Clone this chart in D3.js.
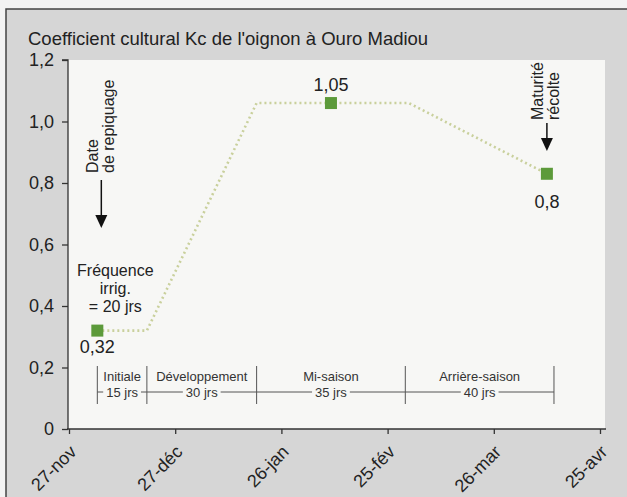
<!DOCTYPE html>
<html lang="fr">
<head>
<meta charset="UTF-8">
<title>Coefficient cultural Kc</title>
<style>
  body { margin: 0; background: #f3f3f3; }
  svg { display: block; font-family: "Liberation Sans", Arial, sans-serif; }
  .axis path, .axis line { stroke: #333; stroke-width: 1.3px; }
  .axis text { font-size: 18px; fill: #222; font-family: "Liberation Sans", Arial, sans-serif; }
  .kc-line { fill: none; stroke: #c9d09c; stroke-width: 2.6px; stroke-dasharray: 2,3; }
  .phase line { stroke: #555; stroke-width: 1px; }
  .phase text { font-size: 13px; fill: #333; }
  .note { font-size: 16px; fill: #222; }
</style>
</head>
<body>
<script src="https://cdn.jsdelivr.net/npm/d3@7"></script>
<script>
// x axis ticks (every 30 days)
const tickDates = ["2007-11-27", "2007-12-27", "2008-01-26", "2008-02-25", "2008-03-26", "2008-04-25"];
const tickLabels = ["27-nov", "27-déc", "26-jan", "25-fév", "26-mar", "25-avr"];
const yTicks = [0, 0.2, 0.4, 0.6, 0.8, 1.0, 1.2];
const yTickLabels = ["0", "0,2", "0,4", "0,6", "0,8", "1,0", "1,2"];

// Kc curve
const kcDates = ["2007-12-05", "2007-12-19", "2008-01-19", "2008-03-02", "2008-04-10"];
const kcValues = [0.32, 0.32, 1.06, 1.06, 0.83];

// marked points
const markDates = ["2007-12-05", "2008-02-09", "2008-04-10"];
const markValues = [0.32, 1.06, 0.83];
const markLabels = ["0,32", "1,05", "0,8"];

// growth phases
const phaseBounds = ["2007-12-05", "2007-12-19", "2008-01-19", "2008-03-01", "2008-04-12"];
const phaseNames = ["Initiale", "Développement", "Mi-saison", "Arrière-saison"];
const phaseDays = ["15 jrs", "30 jrs", "35 jrs", "40 jrs"];

const W = 627, H = 497;
const parse = d3.utcParse("%Y-%m-%d");

const x = d3.scaleUtc()
  .domain([parse(tickDates[0]), parse(tickDates[tickDates.length - 1])])
  .range([69, 600]);
const y = d3.scaleLinear().domain([0, 1.2]).range([429, 60]);

const svg = d3.select("body").append("svg")
  .attr("width", W)
  .attr("height", H);

// grey panel with frame
svg.append("rect")
  .attr("x", 6).attr("y", 9)
  .attr("width", W + 10).attr("height", H + 10)
  .attr("fill", "#d6d6d6")
  .attr("stroke", "#444").attr("stroke-width", 1.5);

svg.append("text")
  .attr("x", 28).attr("y", 45)
  .attr("font-size", "18.5px")
  .attr("fill", "#222")
  .text("Coefficient cultural Kc de l'oignon à Ouro Madiou");

// plot background
svg.append("rect")
  .attr("x", x.range()[0] - 1)
  .attr("y", y(1.2))
  .attr("width", 605 - x.range()[0] + 1)
  .attr("height", y(0) - y(1.2))
  .attr("fill", "#f7f7f5");

// axes
svg.append("g")
  .attr("class", "axis")
  .attr("transform", `translate(${x.range()[0] - 1},0)`)
  .call(d3.axisLeft(y).tickValues(yTicks).tickSize(6).tickPadding(8)
    .tickFormat((d, i) => yTickLabels[i]))
  .call(g => g.select(".domain").attr("d", `M-6,${y(1.2)}H0V${y(0)}`));

const xAxis = svg.append("g")
  .attr("class", "axis")
  .attr("transform", `translate(0,${y(0)})`)
  .call(d3.axisBottom(x).tickValues(tickDates.map(parse)).tickSize(5)
    .tickFormat((d, i) => tickLabels[i]))
  .call(g => g.select(".domain").attr("d", `M${x.range()[0] - 2},0H606`));

xAxis.selectAll(".tick text")
  .attr("text-anchor", "end")
  .attr("y", 0).attr("dy", 0)
  .attr("transform", "translate(8,24) rotate(-45)");

// Kc line
const kcData = kcDates.map((d, i) => ({ date: parse(d), kc: kcValues[i] }));
svg.append("path")
  .datum(kcData)
  .attr("class", "kc-line")
  .attr("d", d3.line().x(d => x(d.date)).y(d => y(d.kc)));

// points and labels
const labelDy = [22, -12, 34];
const marks = markDates.map((d, i) => ({ date: parse(d), kc: markValues[i], label: markLabels[i], dy: labelDy[i] }));
svg.selectAll(".mark")
  .data(marks)
  .join("rect")
  .attr("class", "mark")
  .attr("x", d => x(d.date) - 6)
  .attr("y", d => y(d.kc) - 6)
  .attr("width", 12).attr("height", 12)
  .attr("fill", "#5c9a3a");

svg.selectAll(".mark-label")
  .data(marks)
  .join("text")
  .attr("class", "mark-label")
  .attr("x", d => x(d.date))
  .attr("y", d => y(d.kc) + d.dy)
  .attr("text-anchor", "middle")
  .attr("font-size", "18px")
  .attr("fill", "#222")
  .text(d => d.label);

// phases
const ph = svg.append("g").attr("class", "phase");
const bx = phaseBounds.map(d => x(parse(d)));
bx.forEach(b => {
  ph.append("line").attr("x1", b).attr("x2", b).attr("y1", 366).attr("y2", 404);
});
phaseNames.forEach((name, i) => {
  const cx = (bx[i] + bx[i + 1]) / 2;
  ph.append("text").attr("x", cx).attr("y", 381)
    .attr("text-anchor", "middle").text(name);
  const t = ph.append("text").attr("x", cx).attr("y", 397)
    .attr("text-anchor", "middle").text(phaseDays[i]);
  const half = t.node().getComputedTextLength() / 2 + 3;
  ph.append("line").attr("x1", bx[i]).attr("x2", Math.max(bx[i], cx - half))
    .attr("y1", 392).attr("y2", 392);
  ph.append("line").attr("x1", Math.min(bx[i + 1], cx + half)).attr("x2", bx[i + 1])
    .attr("y1", 392).attr("y2", 392);
});

// annotation: irrigation frequency
const fx = x(parse(markDates[0])) + 18;
["Fréquence", "irrig.", "= 20 jrs"].forEach((s, i) => {
  svg.append("text").attr("class", "note")
    .attr("x", fx).attr("y", 276 + i * 18)
    .attr("text-anchor", "middle").text(s);
});

// vertical notes with arrows
function arrow(ax, y1, y2) {
  svg.append("line").attr("x1", ax).attr("x2", ax).attr("y1", y1).attr("y2", y2 - 10)
    .attr("stroke", "#111").attr("stroke-width", 1.5);
  svg.append("path")
    .attr("d", `M${ax - 6},${y2 - 13}L${ax + 6},${y2 - 13}L${ax},${y2}Z`)
    .attr("fill", "#111");
}
function vnote(ax, bottom, lines) {
  lines.forEach((s, i) => {
    svg.append("text").attr("class", "note")
      .attr("transform", `translate(${ax - 3 + i * 16},${bottom}) rotate(-90)`)
      .text(s);
  });
}

const ax1 = x(parse(markDates[0])) + 4;
vnote(ax1, 173, ["Date", "de repiquage"]);
arrow(ax1, 180, 228);

const ax2 = x(parse(markDates[2]));
vnote(ax2 - 1, 120, ["Maturité", "récolte"]);
arrow(ax2, 123, 151);
</script>
</body>
</html>
